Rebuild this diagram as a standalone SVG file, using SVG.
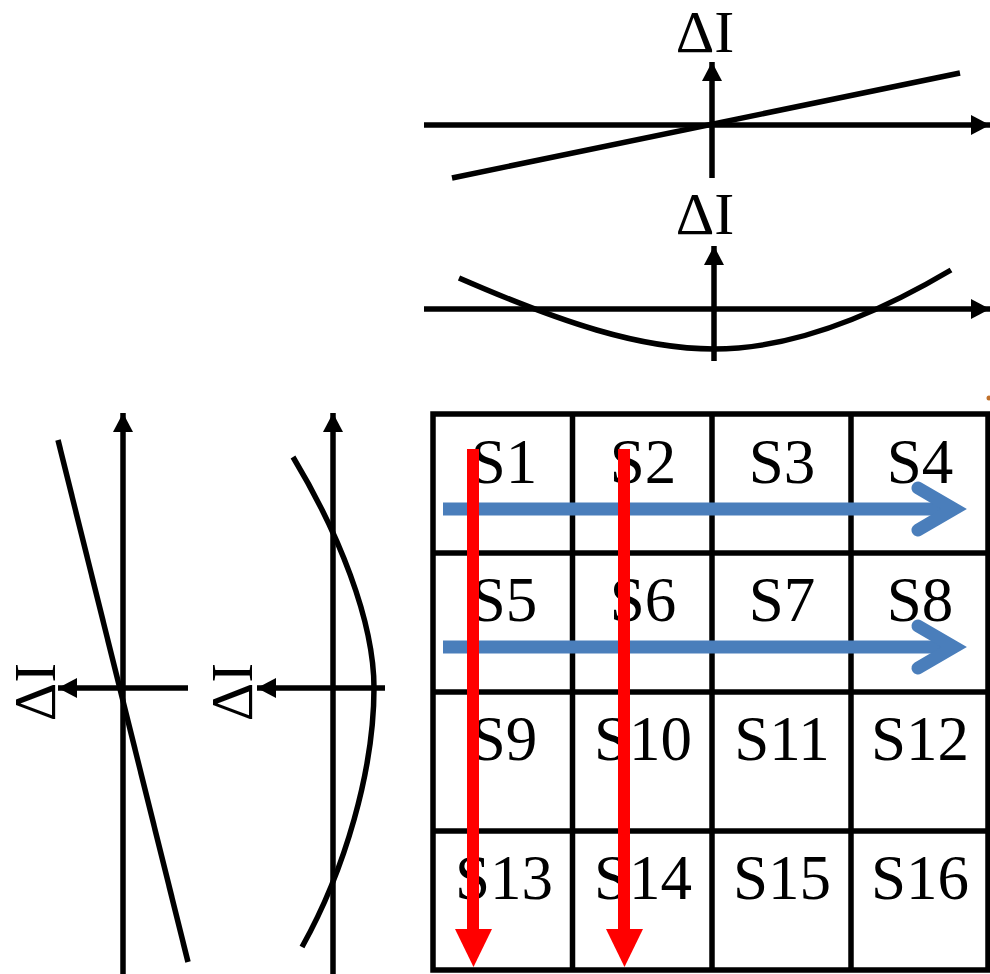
<svg xmlns="http://www.w3.org/2000/svg" width="990" height="974" viewBox="0 0 990 974">
<defs>
<style>
.ax{stroke:#000;stroke-width:5.5;fill:none}
.cv{stroke:#000;stroke-width:5.5;fill:none}
.lbl{font-family:"Liberation Serif","DejaVu Serif",serif;font-size:60px;fill:#000}
.cell{font-family:"Liberation Serif","DejaVu Serif",serif;font-size:63px;fill:#000;text-anchor:middle}
.grid{stroke:#000;stroke-width:5.5;fill:none}
.blue{stroke:#4a7ebb;stroke-width:13;fill:none}
.chev{stroke:#4a7ebb;stroke-width:13;fill:none;stroke-linecap:round;stroke-linejoin:miter}
.red{stroke:#ff0000;stroke-width:12;fill:none}
</style>
<marker id="ah" viewBox="0 0 10 10" refX="10" refY="5" markerWidth="19" markerHeight="20" markerUnits="userSpaceOnUse" orient="auto" preserveAspectRatio="none">
<path d="M0,0 L10,5 L0,10 z" fill="#000"/>
</marker>
</defs>
<rect width="990" height="974" fill="#fff"/>

<g id="plot1">
<line class="ax" x1="424" y1="125" x2="990" y2="125" marker-end="url(#ah)"/>
<line class="ax" x1="712" y1="178" x2="712" y2="62" marker-end="url(#ah)"/>
<line class="cv" x1="452" y1="178" x2="960" y2="73"/>
<text class="lbl" x="705" y="52" text-anchor="middle">ΔI</text>
</g>

<g id="plot2">
<line class="ax" x1="424" y1="309" x2="990" y2="309" marker-end="url(#ah)"/>
<line class="ax" x1="714" y1="361" x2="714" y2="246" marker-end="url(#ah)"/>
<path class="cv" d="M459,278 C560,322 640,349 714,349 C790,349 870,318 951,270"/>
<text class="lbl" x="705" y="234" text-anchor="middle">ΔI</text>
</g>

<g id="plot3">
<line class="ax" x1="123" y1="974" x2="123" y2="413" marker-end="url(#ah)"/>
<line class="ax" x1="188" y1="688" x2="58" y2="688" marker-end="url(#ah)"/>
<line class="cv" x1="58" y1="440" x2="188" y2="962"/>
<text class="lbl" text-anchor="middle" transform="translate(55,692) rotate(-90)">ΔI</text>
</g>

<g id="plot4">
<line class="ax" x1="333" y1="974" x2="333" y2="413" marker-end="url(#ah)"/>
<line class="ax" x1="385" y1="688" x2="257" y2="688" marker-end="url(#ah)"/>
<path class="cv" d="M293,457 C338,532 374,620 374,688 C374,770 345,870 302,947"/>
<text class="lbl" text-anchor="middle" transform="translate(252,692) rotate(-90)">ΔI</text>
</g>

<g id="grid">
<rect class="grid" x="433" y="414" width="555" height="556"/>
<line class="grid" x1="572.5" y1="414" x2="572.5" y2="970"/>
<line class="grid" x1="712" y1="414" x2="712" y2="970"/>
<line class="grid" x1="851" y1="414" x2="851" y2="970"/>
<line class="grid" x1="433" y1="553" x2="988" y2="553"/>
<line class="grid" x1="433" y1="692" x2="988" y2="692"/>
<line class="grid" x1="433" y1="831" x2="988" y2="831"/>
</g>

<g id="cells">
<text class="cell" x="504" y="483">S1</text>
<text class="cell" x="643" y="483">S2</text>
<text class="cell" x="782" y="483">S3</text>
<text class="cell" x="920" y="483">S4</text>
<text class="cell" x="504" y="621">S5</text>
<text class="cell" x="643" y="621">S6</text>
<text class="cell" x="782" y="621">S7</text>
<text class="cell" x="920" y="621">S8</text>
<text class="cell" x="504" y="760">S9</text>
<text class="cell" x="643" y="760">S10</text>
<text class="cell" x="782" y="760">S11</text>
<text class="cell" x="920" y="760">S12</text>
<text class="cell" x="504" y="899">S13</text>
<text class="cell" x="643" y="899">S14</text>
<text class="cell" x="782" y="899">S15</text>
<text class="cell" x="920" y="899">S16</text>
</g>

<g id="connectors">
<line class="blue" x1="443" y1="509" x2="955" y2="509"/>
<path class="chev" d="M918,488 L954,509 L918,530"/>
<line class="blue" x1="443" y1="647" x2="955" y2="647"/>
<path class="chev" d="M918,626 L954,647 L918,668"/>
<line class="red" x1="473" y1="449" x2="473" y2="932"/>
<path d="M455,929 L492,929 L473.5,967 z" fill="#ff0000"/>
<line class="red" x1="624" y1="449" x2="624" y2="932"/>
<path d="M606,929 L643,929 L624.5,967 z" fill="#ff0000"/>
</g>

<circle cx="989" cy="398" r="2.5" fill="#c0702a"/>
</svg>
